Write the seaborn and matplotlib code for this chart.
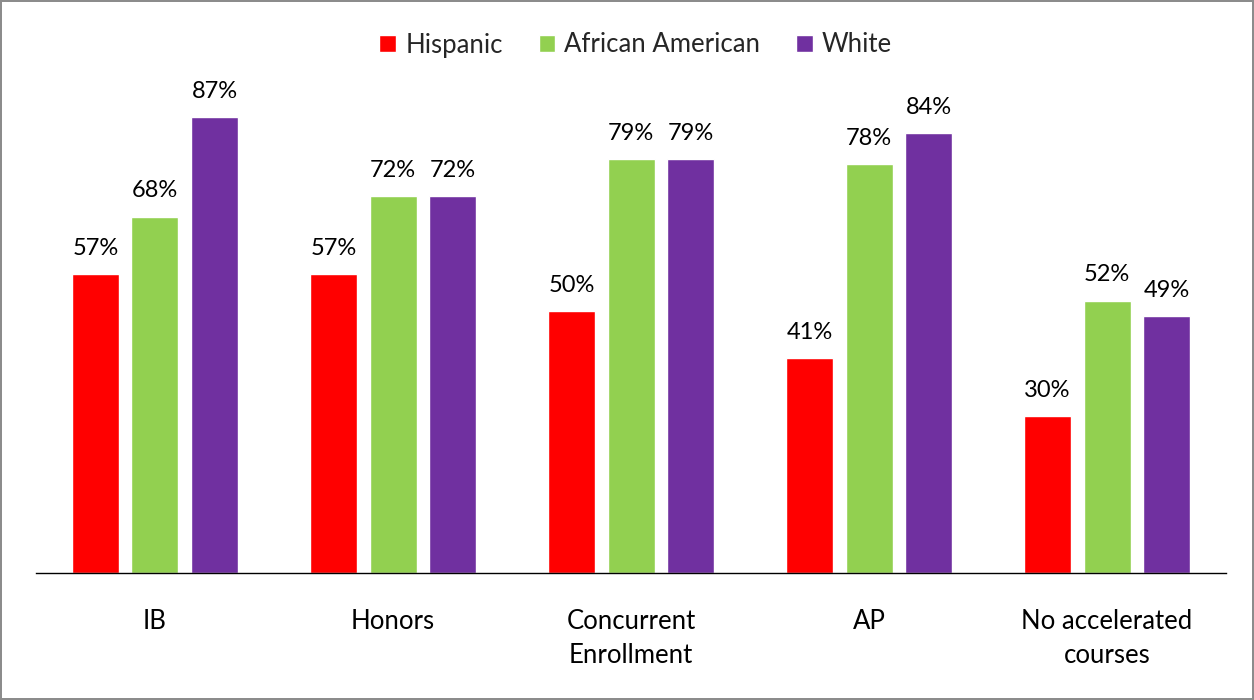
import pandas as pd
import matplotlib.pyplot as plt
import seaborn as sns

# valores
cursos = ['IB', 'Honors', 'Concurrent\nEnrollment', 'AP', 'No accelerated\ncourses']
grupos = ['Hispanic', 'African American', 'White']
hispanic = [57, 57, 50, 41, 30]
african_american = [68, 72, 79, 78, 52]
white = [87, 72, 79, 84, 49]

df = pd.DataFrame({
    'curso': cursos * 3,
    'grupo': [grupos[0]] * 5 + [grupos[1]] * 5 + [grupos[2]] * 5,
    'valor': hispanic + african_american + white,
})

cores = {'Hispanic': '#FF0000', 'African American': '#92D050', 'White': '#7030A0'}

sns.set_style('white')
plt.rcParams['font.family'] = ['Lato', 'DejaVu Sans']

fig = plt.figure(figsize=(12.54, 7.0), dpi=100)
fig.patch.set_edgecolor('#8c8c8c')
fig.patch.set_linewidth(1.5)
ax = fig.add_axes([0.0287, 0.181, 0.949, 0.749])

sns.barplot(data=df, x='curso', y='valor', hue='grupo', palette=cores,
            width=0.75, gap=0.21, saturation=1, ax=ax)

for c in ax.containers:
    ax.bar_label(c, labels=[f'{v:.0f}%' for v in c.datavalues], padding=11,
                 fontsize=17, color='black')

ax.set_ylim(0, 100)
ax.set_xlim(-0.5, 4.5)
ax.set_xlabel('')
ax.set_ylabel('')
ax.set_yticks([])
ax.tick_params(axis='x', length=0, pad=26, labelsize=18.5, colors='black')
for lbl in ax.get_xticklabels():
    lbl.set_linespacing(1.45)
for s in ['top', 'right', 'left']:
    ax.spines[s].set_visible(False)
ax.spines['bottom'].set_color('black')
ax.spines['bottom'].set_linewidth(1)

leg = ax.legend(loc='center', bbox_to_anchor=(0.507, 1 - 45 / 700), bbox_transform=fig.transFigure,
                ncol=3, frameon=False, fontsize=18.5, handlelength=0.65, handleheight=0.65,
                columnspacing=1.4, handletextpad=0.35)

fig.savefig('out.png', dpi=100, edgecolor=fig.get_edgecolor())
